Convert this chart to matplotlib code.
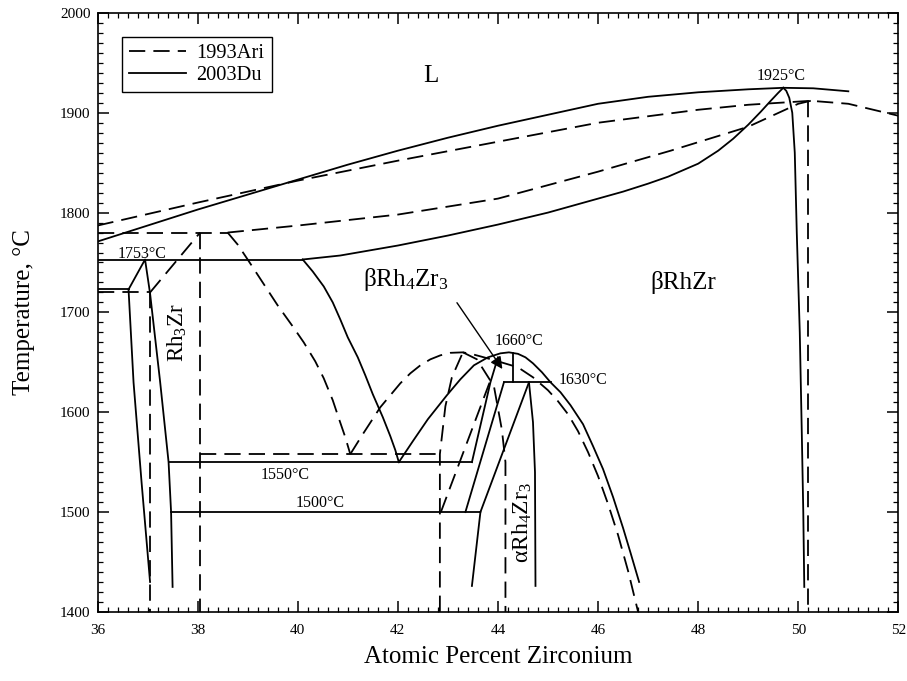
import matplotlib
matplotlib.use("Agg")
import matplotlib.pyplot as plt
from matplotlib.ticker import MultipleLocator

plt.rcParams['font.family'] = ['Liberation Serif', 'DejaVu Serif']
plt.rcParams['mathtext.fontset'] = 'custom'
plt.rcParams['mathtext.rm'] = 'Liberation Serif'
plt.rcParams['mathtext.it'] = 'Liberation Serif:italic'

# --- 2003Du (solid) ---
du_liq_x = [36, 37, 38, 39, 40, 41, 42, 43, 44, 45, 46, 47, 48, 49, 49.7, 50.3, 51]
du_liq_t = [1771, 1787, 1803, 1818, 1833, 1848, 1862, 1875, 1887, 1898, 1909, 1916, 1920.5, 1923.5, 1925, 1924.5, 1921.5]
du_sol_x = [40.1, 40.85, 42, 43, 44, 45, 46, 46.5, 47, 47.4, 48, 48.4, 48.7, 49.0, 49.25, 49.45, 49.6, 49.7]
du_sol_t = [1753, 1757, 1767, 1777, 1788, 1800, 1814, 1821, 1829, 1836, 1849, 1862, 1874, 1888, 1901, 1912, 1920, 1925]
du_rhzr_x = [49.7, 49.76, 49.82, 49.88, 49.93, 49.97, 50.03, 50.07, 50.1, 50.12]
du_rhzr_t = [1925, 1922, 1915, 1900, 1860, 1780, 1680, 1580, 1500, 1425]
du_peak_x = [36.62, 36.95, 37.05, 37.25, 37.42, 37.47, 37.5]
du_peak_t = [1723, 1753, 1719, 1631, 1550, 1500, 1425]
du_rh3zr_left_x = [36.62, 36.72, 36.88, 37.05]
du_rh3zr_left_t = [1723, 1630, 1530, 1430]
du_eut_x = [40.1, 40.3, 40.52, 40.7, 40.85, 41.0, 41.2, 41.35, 41.5, 41.7, 41.85, 41.95, 42.02]
du_eut_t = [1753, 1741, 1726, 1710, 1693, 1675, 1655, 1637, 1618, 1595, 1576, 1562, 1550]
du_arc_x = [42.02, 42.3, 42.6, 42.98, 43.25, 43.52, 43.8, 44.05, 44.22, 44.4, 44.55, 44.7, 44.88,
            45.05, 45.25, 45.45, 45.7, 45.9, 46.1, 46.3, 46.5, 46.65, 46.82]
du_arc_t = [1550, 1571, 1593, 1617, 1633, 1647, 1655, 1659, 1660, 1658.5, 1655, 1649, 1640,
            1630, 1620, 1607, 1588, 1566, 1543, 1515, 1484, 1459, 1430]
du_s1_x = [43.35, 44.12]
du_s1_t = [1500, 1630]
du_s2_x = [43.48, 43.85, 44.0]
du_s2_t = [1550, 1630, 1655]
du_s3_x = [43.65, 44.62]
du_s3_t = [1500, 1630]
du_s4_x = [43.65, 43.48]
du_s4_t = [1500, 1426]
du_s5_x = [44.62, 44.7, 44.74, 44.75]
du_s5_t = [1630, 1590, 1540, 1426]
du_iso_x = [[36, 40.1], [36, 36.62], [37.42, 43.48], [37.47, 43.65], [44.12, 45.05]]
du_iso_t = [1753, 1723, 1550, 1500, 1630]
du_short_x = [44.3, 44.3]
du_short_t = [1630, 1659]

# --- 1993Ari (dashed) ---
ari_liq_x = [36, 38, 40, 42, 44, 46, 48, 49, 50.25, 51, 52]
ari_liq_t = [1787, 1810, 1832, 1852, 1871, 1890, 1903, 1908, 1912, 1909, 1897]
ari_sol_x = [38.6, 40, 42, 44, 46, 47.45, 49, 50, 50.25]
ari_sol_t = [1780, 1787, 1798, 1814, 1841, 1862, 1886, 1909, 1912]
ari_rhzr_x = [50.2, 50.2]
ari_rhzr_t = [1912, 1400]
ari_rh3zr_l_x = [37.05, 37.05]
ari_rh3zr_l_t = [1720, 1400]
ari_rh3zr_r_x = [38.05, 38.05]
ari_rh3zr_r_t = [1780, 1400]
ari_diag_x = [37.05, 38.05]
ari_diag_t = [1720, 1780]
ari_eut_x = [38.6, 38.8, 39.0, 39.3, 39.6, 39.9, 40.12, 40.35, 40.52, 40.7, 40.82, 40.95, 41.05]
ari_eut_t = [1780, 1768, 1753, 1730, 1707, 1686, 1670, 1651, 1634, 1612, 1594, 1575, 1558]
ari_arc_x = [41.05, 41.3, 41.65, 41.85, 42.05, 42.25, 42.45, 42.65, 42.85, 43.05, 43.3, 43.5, 43.72,
             44.0, 44.4, 44.7, 45.0, 45.2, 45.4, 45.6, 45.8, 46.0, 46.2, 46.4, 46.6, 46.8]
ari_arc_t = [1558, 1578, 1605, 1617, 1629, 1639, 1647, 1653, 1657, 1659.5, 1660, 1658, 1655,
             1651, 1645, 1635, 1622, 1611, 1598, 1581, 1560, 1536, 1508, 1477, 1441, 1400]
ari_left_x = [42.84, 42.84, 42.95, 43.08, 43.3]
ari_left_t = [1400, 1558, 1606, 1635, 1660]
ari_right_x = [43.3, 43.58, 43.92, 44.08, 44.15, 44.15]
ari_right_t = [1660, 1653, 1626, 1582, 1550, 1400]
ari_d1_x = [42.86, 43.85]
ari_d1_t = [1500, 1632]
ari_iso_x = [[36, 38.6], [36, 37.05], [38.05, 42.84]]
ari_iso_t = [1780, 1720, 1558]

fig = plt.figure(figsize=(9.07, 6.81), dpi=100)
ax = fig.add_axes([0.1075, 0.1015, 0.883, 0.8795])

dash = (0, (9, 4.5))
lw = 1.3
solid = dict(color='black', lw=lw, ls='-')
dashed = dict(color='black', lw=lw, ls=dash)

for xs, ts in [(du_liq_x, du_liq_t), (du_sol_x, du_sol_t), (du_rhzr_x, du_rhzr_t),
               (du_peak_x, du_peak_t), (du_rh3zr_left_x, du_rh3zr_left_t),
               (du_eut_x, du_eut_t), (du_arc_x, du_arc_t), (du_s1_x, du_s1_t),
               (du_s2_x, du_s2_t), (du_s3_x, du_s3_t), (du_s4_x, du_s4_t),
               (du_s5_x, du_s5_t), (du_short_x, du_short_t)]:
    ax.plot(xs, ts, **solid)
for xs, t in zip(du_iso_x, du_iso_t):
    ax.plot(xs, [t, t], **solid)

for xs, ts in [(ari_liq_x, ari_liq_t), (ari_sol_x, ari_sol_t), (ari_rhzr_x, ari_rhzr_t),
               (ari_rh3zr_l_x, ari_rh3zr_l_t), (ari_rh3zr_r_x, ari_rh3zr_r_t),
               (ari_diag_x, ari_diag_t), (ari_eut_x, ari_eut_t), (ari_arc_x, ari_arc_t),
               (ari_left_x, ari_left_t), (ari_right_x, ari_right_t), (ari_d1_x, ari_d1_t)]:
    ax.plot(xs, ts, **dashed)
for xs, t in zip(ari_iso_x, ari_iso_t):
    ax.plot(xs, [t, t], **dashed)

# legend
h1, = ax.plot([], [], label='1993Ari', **dashed)
h2, = ax.plot([], [], label='2003Du', **solid)
leg = ax.legend(handles=[h1, h2], loc='upper left', bbox_to_anchor=(0.0306, 0.96),
                fontsize=14.7, handlelength=2.8, fancybox=False, framealpha=1,
                edgecolor='black', borderpad=0.35, labelspacing=0.12, handletextpad=0.5,
                borderaxespad=0)
leg.get_frame().set_linewidth(1.0)

# labels inside
ax.text(42.65, 1937, 'L', fontsize=18, ha='center', va='center')
ax.text(49.65, 1937, '1925°C', fontsize=11.5, ha='center', va='center')
ax.text(36.9, 1759, '1753°C', fontsize=11.5, ha='center', va='center')
ax.text(37.6, 1680, r'Rh$_3$Zr', fontsize=16.5, ha='center', va='center', rotation=90)
ax.text(42.15, 1733, r'βRh$_4$Zr$_3$', fontsize=18, ha='center', va='center')
ax.text(44.42, 1671, '1660°C', fontsize=11.5, ha='center', va='center')
ax.text(45.7, 1632, '1630°C', fontsize=11.5, ha='center', va='center')
ax.text(39.75, 1537, '1550°C', fontsize=11.5, ha='center', va='center')
ax.text(40.45, 1509, '1500°C', fontsize=11.5, ha='center', va='center')
ax.text(44.49, 1490, r'αRh$_4$Zr$_3$', fontsize=17, ha='center', va='center', rotation=90)
ax.text(47.7, 1730, 'βRhZr', fontsize=18, ha='center', va='center')

ax.annotate('', xy=(44.12, 1641), xytext=(43.15, 1712),
            arrowprops=dict(arrowstyle='-|>', color='black', lw=1.0, mutation_scale=18))

ax.set_xlim(36, 52)
ax.set_ylim(1400, 2000)
ax.xaxis.set_major_locator(MultipleLocator(2))
ax.xaxis.set_minor_locator(MultipleLocator(0.2))
ax.yaxis.set_major_locator(MultipleLocator(100))
ax.yaxis.set_minor_locator(MultipleLocator(10))
ax.tick_params(which='both', direction='in', top=True, right=True, labelsize=11)
ax.tick_params(which='major', length=8, width=1.1)
ax.tick_params(which='minor', length=3.5, width=0.9)
ax.tick_params(axis='x', which='major', pad=9)
ax.tick_params(axis='y', which='major', pad=5)
for s in ax.spines.values():
    s.set_linewidth(1.2)

ax.set_xlabel('Atomic Percent Zirconium', fontsize=18, labelpad=6)
ax.set_ylabel('Temperature, °C', fontsize=18, labelpad=18)

fig.savefig('out.png', dpi=100)
